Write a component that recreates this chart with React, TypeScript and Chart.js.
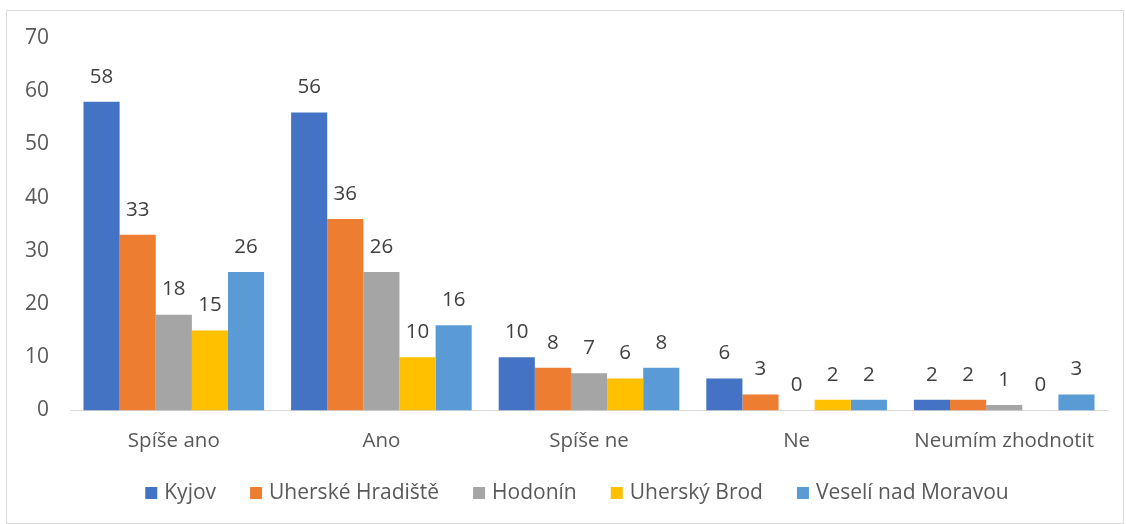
import React, { useEffect, useRef } from "react";
import { Chart, registerables } from "chart.js";

Chart.register(...registerables);

const categories = ["Spíše ano", "Ano", "Spíše ne", "Ne", "Neumím zhodnotit"];
const seriesNames = ["Kyjov", "Uherské Hradiště", "Hodonín", "Uherský Brod", "Veselí nad Moravou"];
const kyjov = [58, 56, 10, 6, 2];
const uherskeHradiste = [33, 36, 8, 3, 2];
const hodonin = [18, 26, 7, 0, 1];
const uherskyBrod = [15, 10, 6, 2, 0];
const veseli = [26, 16, 8, 2, 3];
const colors = ["#4472C4", "#ED7D31", "#A5A5A5", "#FFC000", "#5B9BD5"];

const FONT = "'Open Sans', 'Noto Sans', sans-serif";

const labelPlugin = {
  id: "barLabels",
  afterDatasetsDraw(chart: any) {
    const ctx = chart.ctx;
    ctx.save();
    ctx.font = `20.5px ${FONT}`;
    ctx.fillStyle = "#404040";
    ctx.textAlign = "center";
    ctx.textBaseline = "middle";
    chart.data.datasets.forEach((ds: any, i: number) => {
      const meta = chart.getDatasetMeta(i);
      meta.data.forEach((bar: any, j: number) => {
        ctx.fillText(String(ds.data[j]), bar.x, bar.y - 25);
      });
    });
    ctx.restore();
  },
};

const legendPlugin = {
  id: "bottomLegend",
  afterDraw(chart: any) {
    const ctx = chart.ctx;
    ctx.save();
    ctx.font = `21px ${FONT}`;
    ctx.textBaseline = "middle";
    ctx.textAlign = "left";
    const box = 12;
    const gapText = 7;
    const gapItem = 34;
    const items = chart.data.datasets.map((ds: any) => ({
      label: ds.label,
      color: ds.backgroundColor,
      w: box + gapText + ctx.measureText(ds.label).width,
    }));
    const total = items.reduce((s: number, it: any) => s + it.w, 0) + gapItem * (items.length - 1);
    let x = 570 - total / 2;
    const cy = 482;
    items.forEach((it: any) => {
      ctx.fillStyle = it.color;
      ctx.fillRect(x, cy - box / 2, box, box);
      ctx.fillStyle = "#595959";
      ctx.fillText(it.label, x + box + gapText, cy);
      x += it.w + gapItem;
    });
    ctx.restore();
  },
};

export default function App() {
  const ref = useRef<HTMLCanvasElement>(null);
  useEffect(() => {
    const series = [kyjov, uherskeHradiste, hodonin, uherskyBrod, veseli];
    const chart = new Chart(ref.current!, {
      type: "bar",
      data: {
        labels: categories,
        datasets: series.map((d, i) => ({
          label: seriesNames[i],
          data: d,
          backgroundColor: colors[i],
          borderWidth: 0,
          categoryPercentage: 0.87,
          barPercentage: 1,
        })),
      },
      options: {
        animation: false,
        responsive: false,
        maintainAspectRatio: false,
        layout: { padding: { top: 27, right: 15, left: 0, bottom: 52 } },
        plugins: {
          legend: { display: false },
          tooltip: { enabled: false },
        },
        scales: {
          x: {
            grid: { display: false, drawTicks: false },
            border: { color: "#d9d9d9", width: 1 },
            ticks: { color: "#595959", font: { size: 20.5, family: FONT }, padding: 18 },
          },
          y: {
            min: 0,
            max: 70,
            grid: { display: false, drawTicks: false },
            border: { display: false },
            ticks: { stepSize: 10, color: "#595959", font: { size: 21, family: FONT }, padding: 21 },
            afterFit: (s: any) => {
              s.width = 63;
              s.paddingTop = 0;
            },
          },
        },
      },
      plugins: [labelPlugin, legendPlugin],
    });
    return () => chart.destroy();
  }, []);
  return (
    <div
      style={{
        position: "absolute",
        left: 6,
        top: 10,
        width: 1116,
        height: 512,
        border: "1px solid #d9d9d9",
        background: "#fff",
      }}
    >
      <canvas ref={ref} width={1116} height={512} />
    </div>
  );
}
